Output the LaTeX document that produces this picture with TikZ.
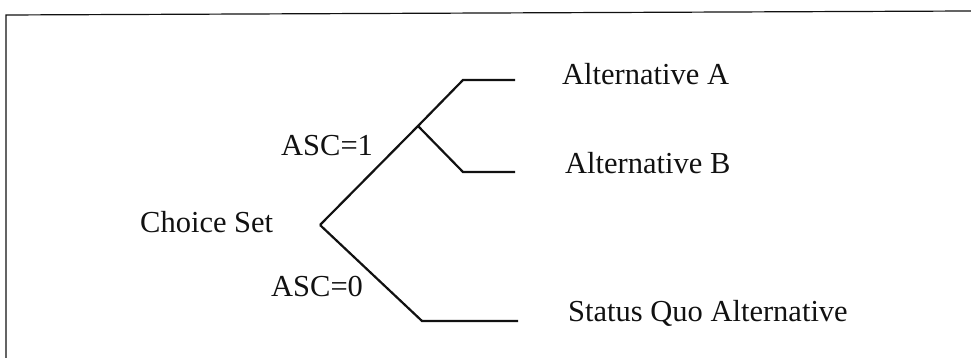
\documentclass[tikz,border=0pt]{standalone}
\usepackage{fontspec}
\setmainfont{Liberation Serif}
\usepackage{tikz}
\usetikzlibrary{positioning}
\definecolor{ink}{HTML}{111111}
\tikzset{
  txt/.style={font=\fontsize{30.5}{35}\selectfont, text=ink, inner sep=0pt, anchor=base west},
  br/.style={draw=ink, line width=2.2pt, line join=miter},
  frm/.style={draw=ink, line width=1.2pt},
}
\begin{document}
\begin{tikzpicture}[x=1pt, y=1pt]
  \useasboundingbox (0,0) rectangle (971,358);
  % frame
  \draw[frm] (6,0) -- (6,343) -- (971,347);
  % tree points
  \coordinate (root) at (320,133);
  \coordinate (jn) at (418,232);
  \coordinate (ea) at (463,278);
  \coordinate (xa) at (515,278);
  \coordinate (eb) at (463,186);
  \coordinate (xb) at (515,186);
  \coordinate (es) at (422,37);
  \coordinate (xs) at (518,37);
  % labels
  \node[txt] (cs) at (140,125) {Choice Set};
  \node[txt] (asc1) at (281,202) {ASC=1};
  \node[txt] (asc0) at (271,61) {ASC=0};
  \node[txt] (alta) at (562,273) {Alternative A};
  \node[txt] (altb) at (565,184) {Alternative B};
  \node[txt] (sq) at (568,36) {Status Quo Alternative};
  % branches
  \draw[br] (root) -- (jn) -- (ea) -- (xa);
  \draw[br] (jn) -- (eb) -- (xb);
  \draw[br] (root) -- (es) -- (xs);
\end{tikzpicture}
\end{document}
